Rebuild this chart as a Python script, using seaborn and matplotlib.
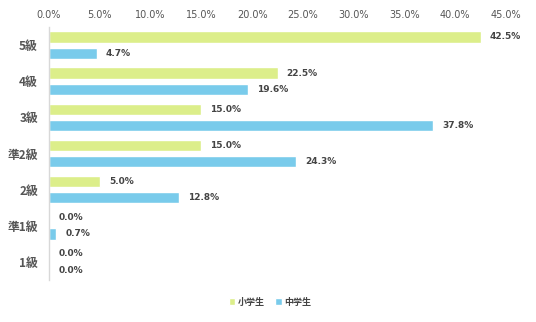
import matplotlib
matplotlib.use("Agg")
import matplotlib.pyplot as plt
import seaborn as sns
import pandas as pd

categories = ["5級", "4級", "3級", "準2級", "2級", "準1級", "1級"]
series_names = ["小学生", "中学生"]
elementary = [42.5, 22.5, 15.0, 15.0, 5.0, 0.0, 0.0]
junior = [4.7, 19.6, 37.8, 24.3, 12.8, 0.7, 0.0]
xticks = [0, 5, 10, 15, 20, 25, 30, 35, 40, 45]

colors = ["#dcee8a", "#79cbeb"]

sns.set_theme(style="white")
plt.rcParams["font.family"] = ["DejaVu Sans", "Noto Sans CJK JP"]

df = pd.DataFrame({
    "category": categories * 2,
    "value": elementary + junior,
    "group": [series_names[0]] * len(categories) + [series_names[1]] * len(categories),
})

fig = plt.figure(figsize=(5.36, 3.22), dpi=100)
ax = fig.add_axes([49 / 536, 1 - 280 / 322, 457 / 536, 253 / 322])

sns.barplot(data=df, y="category", x="value", hue="group", orient="h",
            palette=colors, width=0.9, gap=0.3, ax=ax, legend=True,
            saturation=1)

ax.set_xlim(0, 45)
ax.set_xticks(xticks)
ax.set_xticklabels([f"{t:.1f}%" for t in xticks], fontsize=7, color="#555555")
ax.xaxis.tick_top()
ax.tick_params(axis="x", length=0, pad=5)
ax.set_yticks(range(len(categories)))
ax.set_yticklabels(categories, fontsize=8.5, fontweight="bold", color="#555555",
                   family=["Noto Sans CJK JP"])
ax.tick_params(axis="y", length=0, pad=8)
ax.set_xlabel("")
ax.set_ylabel("")
for s in ["top", "right", "bottom"]:
    ax.spines[s].set_visible(False)
ax.spines["left"].set_color("#d8d8d8")
ax.spines["left"].set_linewidth(1)

for cont in ax.containers:
    for bar in cont:
        w = bar.get_width()
        y = bar.get_y() + bar.get_height() / 2
        ax.text(w + 0.9, y, f"{w:.1f}%", va="center", ha="left",
                fontsize=6.5, fontweight="bold", color="#444444")

leg = ax.legend(loc="center", ncol=2, frameon=False, fontsize=6.5,
                handlelength=0.7, handleheight=0.7, handletextpad=0.3,
                columnspacing=1.2,
                bbox_to_anchor=(270 / 536, 1 - 302 / 322),
                bbox_transform=fig.transFigure)
for t in leg.get_texts():
    t.set_family(["Noto Sans CJK JP"])
    t.set_color("#444444")
    t.set_fontweight("bold")

fig.savefig("out.png", dpi=100)
